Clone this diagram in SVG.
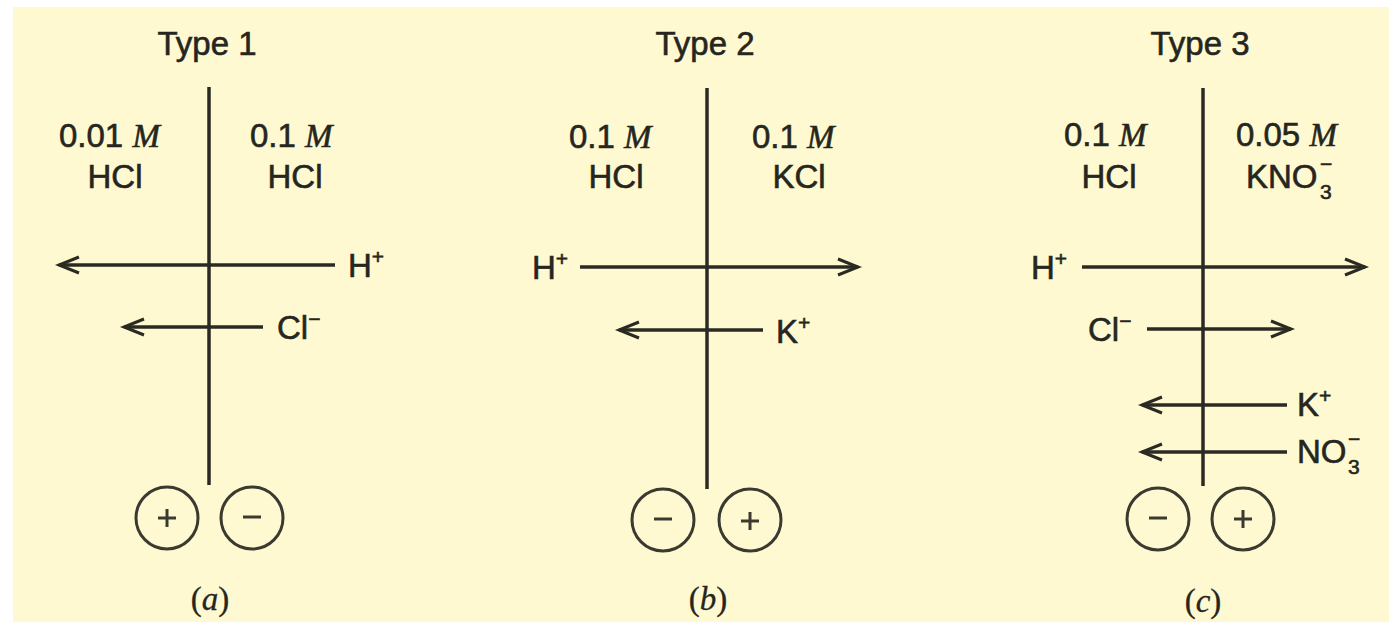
<svg xmlns="http://www.w3.org/2000/svg" width="1389" height="622" viewBox="0 0 1389 622">
<defs>
<style>
.bg{fill:#FFF9D1}
.ln{stroke:#2b2a22;stroke-width:3.5;fill:none}
.ar{stroke:#2b2a22;stroke-width:3.5;fill:none;marker-end:url(#ah)}
.cir{stroke:#3a3a30;stroke-width:3;fill:none}
.sg{stroke:#3a3a30;stroke-width:3}
.t{font-family:"Liberation Sans",Arial,sans-serif;font-size:33px;fill:#262620;stroke:#262620;stroke-width:0.6}
.ttl{font-family:"Liberation Sans",Arial,sans-serif;font-size:33px;fill:#262620;stroke:#262620;stroke-width:0.6}
.m{font-family:"Liberation Serif","Times New Roman",serif;font-style:italic}
.sm{font-size:21px}
.cap{font-family:"Liberation Serif","Times New Roman",serif;font-size:33px;fill:#262620;stroke:#262620;stroke-width:0.3}
.it{font-style:italic}
</style>
<marker id="ah" markerUnits="userSpaceOnUse" markerWidth="30" markerHeight="24" viewBox="-22 -12 30 24" refX="0" refY="0" orient="auto">
<path d="M-20,-8 L0,0 L-20,8" fill="none" stroke="#2b2a22" stroke-width="3"/>
</marker>
</defs>
<rect width="1389" height="622" fill="#ffffff"/>
<rect class="bg" x="13" y="7" width="1376" height="615"/>

<g id="connectors">
<line class="ln" x1="209" y1="87" x2="209" y2="485"/>
<line class="ar" x1="335" y1="265" x2="59" y2="265"/>
<line class="ar" x1="263" y1="327" x2="124" y2="327"/>
<line class="ln" x1="707" y1="88" x2="707" y2="489"/>
<line class="ar" x1="580" y1="267" x2="858" y2="267"/>
<line class="ar" x1="763" y1="330" x2="619" y2="330"/>
<line class="ln" x1="1203" y1="88" x2="1203" y2="486"/>
<line class="ar" x1="1082" y1="267" x2="1365" y2="267"/>
<line class="ar" x1="1147" y1="329" x2="1291" y2="329"/>
<line class="ar" x1="1287" y1="405" x2="1142" y2="405"/>
<line class="ar" x1="1287" y1="452" x2="1142" y2="452"/>
</g>

<g id="panel-a">
<text class="ttl" x="207" y="55" text-anchor="middle">Type 1</text>
<text class="t" x="59" y="147">0.01 <tspan class="m">M</tspan></text>
<text class="t" x="115" y="188" text-anchor="middle">HCl</text>
<text class="t" x="250" y="147">0.1 <tspan class="m">M</tspan></text>
<text class="t" x="295" y="188" text-anchor="middle">HCl</text>
<text class="t" x="348" y="277">H<tspan class="sm" dy="-13">+</tspan></text>
<text class="t" x="277" y="339">Cl<tspan class="sm" dy="-13">−</tspan></text>
<g id="a-plus"><circle class="cir" cx="167" cy="518" r="31"/><line class="sg" x1="158" y1="518" x2="176" y2="518"/><line class="sg" x1="167" y1="509" x2="167" y2="527"/></g>
<g id="a-minus"><circle class="cir" cx="252" cy="518" r="31"/><line class="sg" x1="243" y1="517" x2="261" y2="517"/></g>
<text class="cap" x="210" y="610" text-anchor="middle">(<tspan class="it">a</tspan>)</text>
</g>

<g id="panel-b">
<text class="ttl" x="705" y="55" text-anchor="middle">Type 2</text>
<text class="t" x="569" y="148">0.1 <tspan class="m">M</tspan></text>
<text class="t" x="616" y="188" text-anchor="middle">HCl</text>
<text class="t" x="752" y="148">0.1 <tspan class="m">M</tspan></text>
<text class="t" x="799" y="188" text-anchor="middle">KCl</text>
<text class="t" x="532" y="279">H<tspan class="sm" dy="-13">+</tspan></text>
<text class="t" x="776" y="343">K<tspan class="sm" dy="-13">+</tspan></text>
<g id="b-minus"><circle class="cir" cx="663" cy="520" r="31"/><line class="sg" x1="654" y1="519" x2="672" y2="519"/></g>
<g id="b-plus"><circle class="cir" cx="750" cy="520" r="31"/><line class="sg" x1="741" y1="521" x2="759" y2="521"/><line class="sg" x1="750" y1="512" x2="750" y2="530"/></g>
<text class="cap" x="708" y="610" text-anchor="middle">(<tspan class="it">b</tspan>)</text>
</g>

<g id="panel-c">
<text class="ttl" x="1200" y="55" text-anchor="middle">Type 3</text>
<text class="t" x="1064" y="146">0.1 <tspan class="m">M</tspan></text>
<text class="t" x="1109" y="188" text-anchor="middle">HCl</text>
<text class="t" x="1236" y="146">0.05 <tspan class="m">M</tspan></text>
<text class="t" x="1246" y="188">KNO</text>
<text class="t sm" x="1320" y="171">−</text>
<text class="t sm" x="1320" y="199">3</text>
<text class="t" x="1031" y="279">H<tspan class="sm" dy="-13">+</tspan></text>
<text class="t" x="1088" y="341">Cl<tspan class="sm" dy="-13">−</tspan></text>
<text class="t" x="1297" y="416">K<tspan class="sm" dy="-13">+</tspan></text>
<text class="t" x="1297" y="463">NO</text>
<text class="t sm" x="1348" y="446">−</text>
<text class="t sm" x="1348" y="474">3</text>
<g id="c-minus"><circle class="cir" cx="1158" cy="519" r="31"/><line class="sg" x1="1149" y1="518" x2="1167" y2="518"/></g>
<g id="c-plus"><circle class="cir" cx="1243" cy="519" r="31"/><line class="sg" x1="1234" y1="519" x2="1252" y2="519"/><line class="sg" x1="1243" y1="510" x2="1243" y2="528"/></g>
<text class="cap" x="1203" y="612" text-anchor="middle">(<tspan class="it">c</tspan>)</text>
</g>
</svg>
